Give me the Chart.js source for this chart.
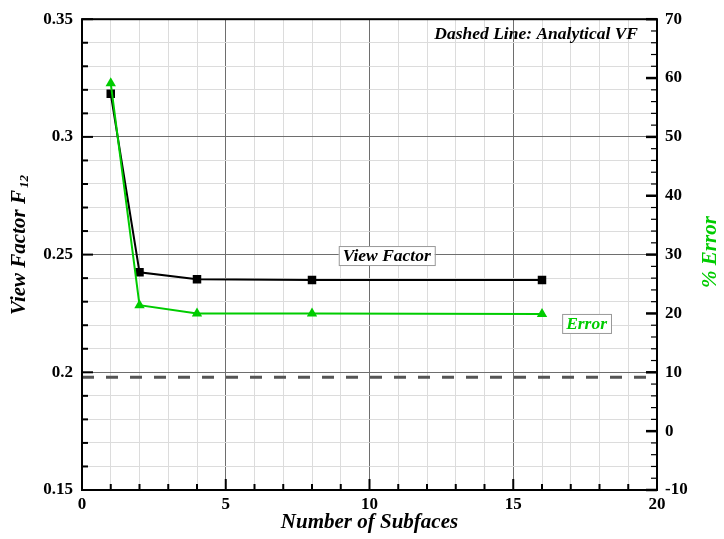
<!DOCTYPE html>
<html>
<head>
<meta charset="utf-8">
<script src="https://cdn.jsdelivr.net/npm/chart.js@4"></script>
<style>
  html, body { margin: 0; padding: 0; background: #fff; }
  canvas { display: block; }
</style>
</head>
<body>
<canvas id="chart" width="724" height="539"></canvas>
<script>
// values
const subfaces = [1, 2, 4, 8, 16];
const viewFactor = [0.3183, 0.2425, 0.2395, 0.2392, 0.2392];
const percentError = [59.1, 21.4, 20.0, 20.0, 19.9];
const analyticalX = [0, 20];
const analyticalVF = [0.1979, 0.1979];

const xTicks = [0, 5, 10, 15, 20];
const vfTicks = [0.15, 0.2, 0.25, 0.3, 0.35];
const errTicks = [-10, 0, 10, 20, 30, 40, 50, 60, 70];

const SERIF = '"Liberation Serif", "Times New Roman", serif';
const GREEN = '#00cc00';

const near = (v, list) => list.some(t => Math.abs(t - v) < 1e-6);
const fmt = v => String(parseFloat(v.toFixed(2)));

// frame, inward ticks, axis titles and text boxes
const framePlugin = {
    id: 'frame',
    afterDraw(chart) {
        const { ctx, chartArea: a, scales } = chart;
        ctx.save();

        // inward tick marks
        ctx.strokeStyle = '#000';
        ctx.lineWidth = 2;
        const tick = (x1, y1, x2, y2) => {
            ctx.beginPath(); ctx.moveTo(x1, y1); ctx.lineTo(x2, y2); ctx.stroke();
        };
        scales.x.ticks.forEach(t => {
            const px = scales.x.getPixelForValue(t.value);
            const len = near(t.value, xTicks) ? 11 : 6;
            tick(px, a.bottom, px, a.bottom - len);
        });
        scales.y.ticks.forEach(t => {
            const py = scales.y.getPixelForValue(t.value);
            const len = near(t.value, vfTicks) ? 11 : 6;
            tick(a.left, py, a.left + len, py);
        });
        scales.y2.ticks.forEach(t => {
            const py = scales.y2.getPixelForValue(t.value);
            const len = near(t.value, errTicks) ? 11 : 6;
            ctx.lineWidth = near(t.value, errTicks) ? 2.5 : 1.2;
            tick(a.right, py, a.right - len, py);
        });

        // plot frame
        ctx.lineWidth = 2;
        ctx.strokeRect(a.left, a.top, a.right - a.left, a.bottom - a.top);

        // x title
        ctx.fillStyle = '#000';
        ctx.textAlign = 'center';
        ctx.textBaseline = 'middle';
        ctx.font = `italic bold 21px ${SERIF}`;
        ctx.fillText('Number of Subfaces', (a.left + a.right) / 2, 523);

        // left title with subscript
        ctx.save();
        ctx.translate(20, 245);
        ctx.rotate(-Math.PI / 2);
        ctx.font = `italic bold 21px ${SERIF}`;
        const main = 'View Factor F';
        const wMain = ctx.measureText(main).width;
        ctx.font = `italic bold 13px ${SERIF}`;
        const wSub = ctx.measureText('12').width;
        const start = -(wMain + wSub + 2) / 2;
        ctx.textAlign = 'left';
        ctx.font = `italic bold 21px ${SERIF}`;
        ctx.fillText(main, start, 0);
        ctx.font = `italic bold 13px ${SERIF}`;
        ctx.fillText('12', start + wMain + 2, 5);
        ctx.restore();

        // right title
        ctx.save();
        ctx.translate(711, 252);
        ctx.rotate(-Math.PI / 2);
        ctx.fillStyle = GREEN;
        ctx.textAlign = 'center';
        ctx.font = `italic bold 21px ${SERIF}`;
        ctx.fillText('% Error', 0, 0);
        ctx.restore();

        // note in the top right corner
        ctx.font = `italic bold 17.5px ${SERIF}`;
        ctx.textAlign = 'right';
        ctx.fillStyle = '#000';
        ctx.fillText('Dashed Line: Analytical VF', 638, 34);

        // boxed series labels
        const box = (text, cx, cy, color) => {
            ctx.font = `italic bold 17.5px ${SERIF}`;
            const w = ctx.measureText(text).width + 8;
            const h = 19;
            ctx.fillStyle = '#fff';
            ctx.fillRect(cx - w / 2, cy - h / 2, w, h);
            ctx.strokeStyle = '#999';
            ctx.lineWidth = 1;
            ctx.strokeRect(cx - w / 2 + 0.5, cy - h / 2 + 0.5, w, h);
            ctx.fillStyle = color;
            ctx.textAlign = 'center';
            ctx.fillText(text, cx, cy + 1);
        };
        box('View Factor', scales.x.getPixelForValue(10.6), scales.y.getPixelForValue(0.2496), '#000');
        box('Error', scales.x.getPixelForValue(17.55), scales.y2.getPixelForValue(18.3), GREEN);

        ctx.restore();
    }
};

const gridColor = (list) => (c) => (c.tick && near(c.tick.value, list)) ? '#6e6e6e' : '#dcdcdc';

new Chart(document.getElementById('chart'), {
    type: 'line',
    data: {
        datasets: [
            {
                label: 'Analytical VF',
                data: analyticalX.map((x, i) => ({ x, y: analyticalVF[i] })),
                yAxisID: 'y',
                borderColor: '#555',
                borderWidth: 3,
                borderDash: [12, 12],
                pointRadius: 0,
                order: 3
            },
            {
                label: 'View Factor',
                data: subfaces.map((x, i) => ({ x, y: viewFactor[i] })),
                yAxisID: 'y',
                borderColor: '#000',
                backgroundColor: '#000',
                borderWidth: 2,
                pointStyle: 'rect',
                pointRadius: 6,
                pointBorderWidth: 0,
                order: 2
            },
            {
                label: 'Error',
                data: subfaces.map((x, i) => ({ x, y: percentError[i] })),
                yAxisID: 'y2',
                borderColor: GREEN,
                backgroundColor: GREEN,
                borderWidth: 2,
                pointStyle: 'triangle',
                pointRadius: 6,
                pointBorderWidth: 0,
                order: 1
            }
        ]
    },
    options: {
        responsive: false,
        animation: false,
        devicePixelRatio: 1,
        layout: { padding: { top: 16, left: 0, right: 0, bottom: 0 } },
        plugins: { legend: { display: false }, tooltip: { enabled: false } },
        scales: {
            x: {
                type: 'linear',
                min: 0, max: 20,
                afterFit(s) { s.height = 49; },
                ticks: {
                    stepSize: 1, autoSkip: false, maxRotation: 0, padding: 4,
                    color: '#000',
                    font: { family: SERIF, size: 17, weight: 'bold' },
                    callback: v => near(v, xTicks) ? String(v) : ''
                },
                grid: { color: gridColor(xTicks), lineWidth: 1, drawTicks: false },
                border: { display: false }
            },
            y: {
                type: 'linear',
                position: 'left',
                min: 0.15, max: 0.35,
                afterFit(s) { s.width = 82; },
                ticks: {
                    stepSize: 0.01, autoSkip: false, padding: 9,
                    color: '#000',
                    font: { family: SERIF, size: 17, weight: 'bold' },
                    callback: v => near(v, vfTicks) ? fmt(v) : ''
                },
                grid: { color: gridColor(vfTicks), lineWidth: 1, drawTicks: false },
                border: { display: false }
            },
            y2: {
                type: 'linear',
                position: 'right',
                min: -10, max: 70,
                afterFit(s) { s.width = 67; },
                ticks: {
                    stepSize: 2, autoSkip: false, padding: 8,
                    color: '#000',
                    font: { family: SERIF, size: 17, weight: 'bold' },
                    callback: v => near(v, errTicks) ? String(v) : ''
                },
                grid: { display: false, drawTicks: false },
                border: { display: false }
            }
        }
    },
    plugins: [framePlugin]
});
</script>
</body>
</html>
